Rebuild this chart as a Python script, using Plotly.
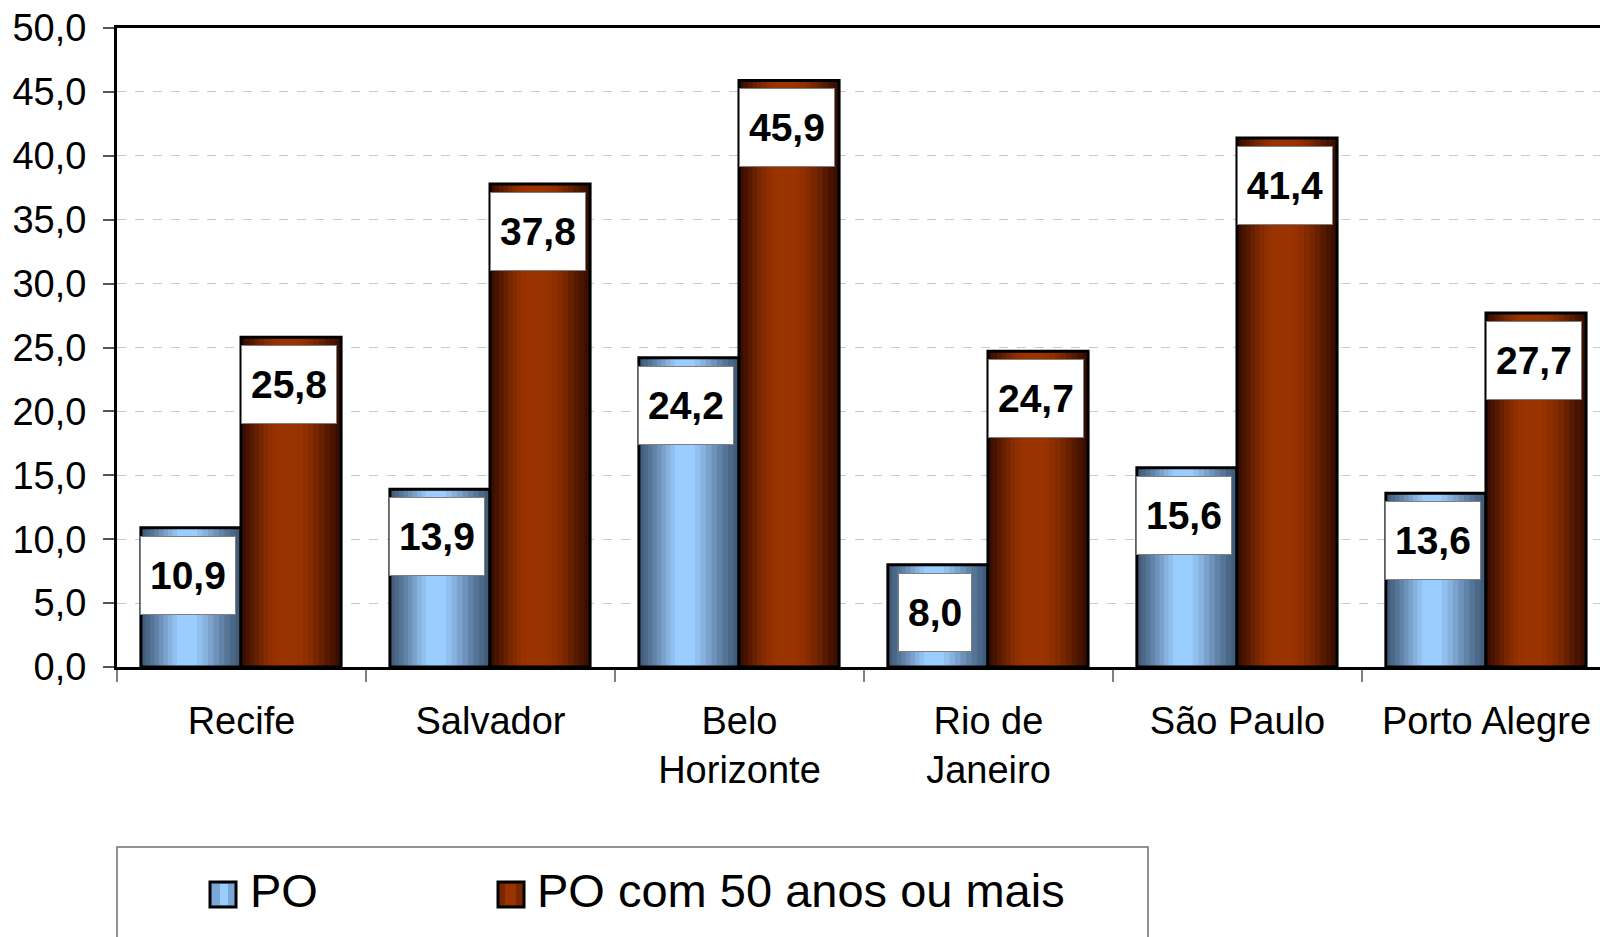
import plotly.graph_objects as go

# ---- data ----
categories = ["Recife", "Salvador", "Belo<br>Horizonte", "Rio de<br>Janeiro", "São Paulo", "Porto Alegre"]
po = [10.9, 13.9, 24.2, 8.0, 15.6, 13.6]
po50 = [25.8, 37.8, 45.9, 24.7, 41.4, 27.7]
series_names = ["PO", "PO com 50 anos ou mais"]
y_ticks = [0, 5, 10, 15, 20, 25, 30, 35, 40, 45, 50]

FONT = "Liberation Sans, Arial, sans-serif"
W, H = 1600, 937
ML, MT, MB, MR = 117, 28, 270, 0

blue_pal = ["#425c7a", "#4b6888", "#557597", "#6183a8", "#6e92ba", "#7ba2cc",
            "#87b2de", "#91c0ee", "#99ccff"]
red_pal = ["#3a0e00", "#481400", "#571a00", "#672000", "#772600", "#852b00",
           "#8f2f00", "#963200", "#993300"]

fig = go.Figure()

def add_cylinder(values, L, R, pal, name):
    n = len(pal)
    c = L + 0.45 * (R - L)
    for k in range(n):
        t = k / (n - 1)
        left = L + t * (c - L) * 0.8
        right = R - t * (R - c) * 0.8
        fig.add_trace(go.Bar(
            x=categories, y=values, offset=left, width=right - left,
            marker=dict(color=pal[k], line=dict(width=0)),
            showlegend=False, hoverinfo="skip", name=name,
        ))
    fig.add_trace(go.Bar(
        x=categories, y=values, offset=L, width=R - L, name=name,
        marker=dict(color="rgba(0,0,0,0)", line=dict(width=3, color="black")),
        showlegend=False,
    ))

BL, BR = -0.404, -0.002
RL, RR = -0.002, 0.400
add_cylinder(po, BL, BR, blue_pal, series_names[0])
add_cylinder(po50, RL, RR, red_pal, series_names[1])

# data label boxes
LBL_FS = 39
def text_w(s):
    return sum(0.278 if ch == "," else 0.556 for ch in s) * LBL_FS

annotations = []
for vals, L, R in ((po, BL, BR), (po50, RL, RR)):
    for i, v in enumerate(vals):
        s = f"{v:.1f}".replace(".", ",")
        annotations.append(dict(
            x=i + (L + R) / 2, y=v, xref="x", yref="y",
            text=f"<b>{s}</b>", showarrow=False,
            xanchor="center", yanchor="top", xshift=-2.5, yshift=-8,
            width=text_w(s) + 18, height=77,
            bgcolor="white", bordercolor="#7f7f7f", borderwidth=1, borderpad=0,
            font=dict(family=FONT, size=LBL_FS, color="black"),
        ))

# custom legend (paper coords)
pw = W - ML - MR
ph = H - MT - MB
def px_x(px):
    return (px - ML) / pw
def px_y(py):
    return (H - MB - py) / ph

shapes = [
    dict(type="rect", xref="paper", yref="paper",
         x0=px_x(117), x1=px_x(1148), y0=px_y(847), y1=px_y(980),
         line=dict(color="#6f6f6f", width=1.5), fillcolor="rgba(0,0,0,0)"),
    dict(type="rect", xref="paper", yref="paper",
         x0=px_x(210), x1=px_x(236), y0=px_y(882), y1=px_y(907),
         line=dict(color="black", width=3), fillcolor="#7aa6d8"),
    dict(type="rect", xref="paper", yref="paper",
         x0=px_x(220), x1=px_x(228), y0=px_y(884), y1=px_y(905),
         line=dict(width=0), fillcolor="#99ccff"),
    dict(type="rect", xref="paper", yref="paper",
         x0=px_x(498), x1=px_x(524), y0=px_y(882), y1=px_y(907),
         line=dict(color="black", width=3), fillcolor="#7a2600"),
    dict(type="rect", xref="paper", yref="paper",
         x0=px_x(505), x1=px_x(516), y0=px_y(884), y1=px_y(905),
         line=dict(width=0), fillcolor="#993300"),
]
for name, xpx in ((series_names[0], 248), (series_names[1], 535)):
    annotations.append(dict(
        x=px_x(xpx), y=px_y(890), xref="paper", yref="paper",
        text=name, showarrow=False, xanchor="left", yanchor="middle",
        font=dict(family=FONT, size=47, color="black"),
    ))

fig.update_layout(
    width=W, height=H,
    margin=dict(l=ML, r=MR, t=MT, b=MB, pad=0),
    paper_bgcolor="white", plot_bgcolor="white",
    barmode="overlay", separators=",.",
    showlegend=False,
    annotations=annotations, shapes=shapes,
    font=dict(family=FONT, color="black"),
)
fig.update_xaxes(
    type="category", range=[-0.5, 5.456],
    showline=True, linecolor="black", linewidth=3, mirror=True,
    ticks="outside", tickson="boundaries", ticklen=12, tickwidth=1.5, tickcolor="#808080",
    tickfont=dict(family=FONT, size=38, color="black"),
    showgrid=False, ticklabelstandoff=18,
)
fig.update_yaxes(
    range=[0, 50], tickvals=y_ticks, tickformat=".1f",
    showline=True, linecolor="black", linewidth=3,
    ticks="outside", ticklen=11, tickwidth=1.5, tickcolor="#555555",
    tickfont=dict(family=FONT, size=38, color="black"),
    showgrid=True, gridcolor="#c8c8c8", gridwidth=1, griddash="dash",
    zeroline=False, ticklabelstandoff=9,
)

fig.write_html("out.html", config={"displayModeBar": False},
               post_script="document.body.style.margin='0';")
